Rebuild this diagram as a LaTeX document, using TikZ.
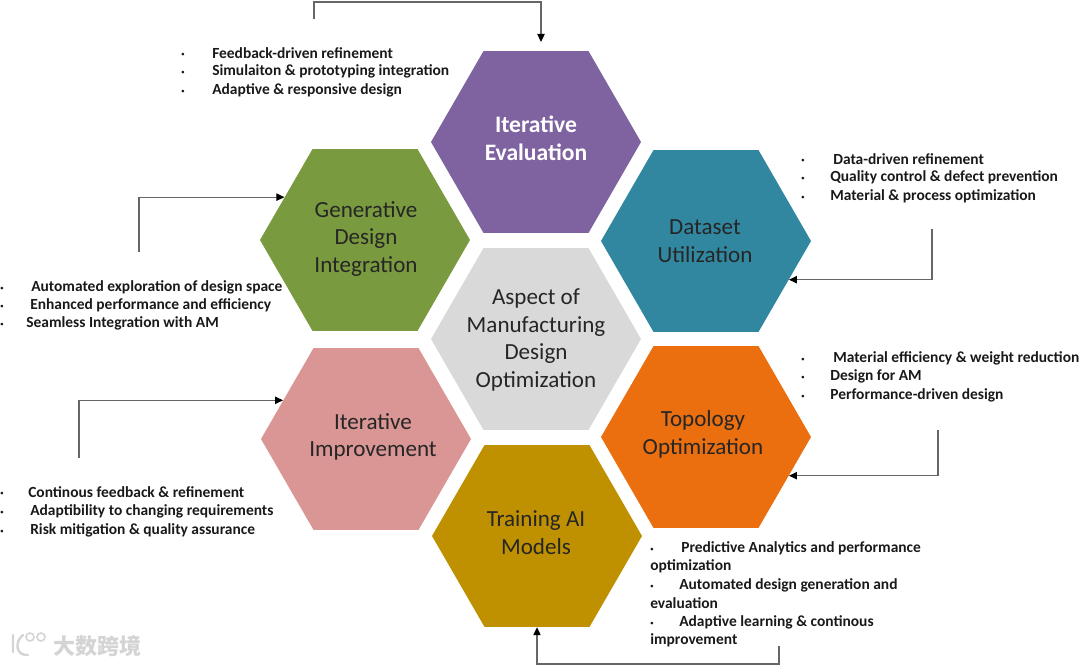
\documentclass[tikz,border=0pt]{standalone}
\usepackage{fontspec}
\setmainfont{Carlito}
\newfontfamily\cjkfont{Noto Sans CJK SC}
\usetikzlibrary{shapes.geometric,arrows.meta}
\definecolor{evalpurple}{HTML}{7F63A1}
\definecolor{gendgreen}{HTML}{7A9A3F}
\definecolor{datateal}{HTML}{31879F}
\definecolor{topoorange}{HTML}{EB6E0F}
\definecolor{imprpink}{HTML}{D99694}
\definecolor{traingold}{HTML}{BF9000}
\tikzset{
  hexcell/.style={regular polygon,regular polygon sides=6,
    minimum size=157.5pt,inner sep=0pt},
  hextext/.style={inner sep=0pt,align=center,text=black!85,
    font=\fontsize{17.3}{20.8}\selectfont},
  pointtext/.style={anchor=west,inner sep=0pt,text=black!90,
    font=\bfseries\fontsize{11.6}{12}\selectfont},
  pointdot/.style={inner sep=0pt,yshift=-2.2pt,text=black!90,font=\bfseries\fontsize{10.5}{12}\selectfont},
  loopline/.style={draw=black!60,line width=0.8pt,-{Triangle[length=6pt,width=5.5pt,color=black]}},
}
\begin{document}
\begin{tikzpicture}[x=0.75pt,y=-0.75pt]
  \useasboundingbox (0,0) rectangle (1080,666);
  % Hexagon cells
  \node[hexcell,fill=evalpurple] (iterEval) at (536,142) {};
  \node[hexcell,fill=gendgreen] (genDesign) at (365,240) {};
  \node[hexcell,fill=datateal] (dataUse) at (706,241) {};
  \node[hexcell,fill=black!15] (aspect) at (536,339) {};
  \node[hexcell,fill=topoorange] (topoOpt) at (706,437) {};
  \node[hexcell,fill=imprpink] (iterImpr) at (366,439) {};
  \node[hexcell,fill=traingold] (trainAI) at (537,536) {};
  % Hexagon labels
  \node[hextext,text=white,font=\bfseries\fontsize{17.7}{20.8}\selectfont] (iterEvalText) at (536,138) {Iterative\\Evaluation};
  \node[hextext] (genDesignText) at (366,239) {Generative\\Design\\Integration};
  \node[hextext] (dataUseText) at (705,241) {Dataset\\Utilization};
  \node[hextext] (aspectText) at (536,340) {Aspect of\\Manufacturing\\Design\\Optimization};
  \node[hextext] (topoOptText) at (703,434) {Topology\\Optimization};
  \node[hextext] (iterImprText) at (373,437) {Iterative\\Improvement};
  \node[hextext] (trainAIText) at (536,533) {Training AI\\Models};
  % Bullet points
  \foreach \x/\y/\txt [count=\i] in {
      212/53/Feedback-driven refinement,
      212/71/Simulaiton \& prototyping integration,
      212/90/Adaptive \& responsive design}{
    \node[pointdot] (fbDot\i) at (183,\y) {·};
    \node[pointtext] (fbText\i) at (\x,\y) {\txt};
  }
  \foreach \x/\y/\txt [count=\i] in {
      833/159/Data-driven refinement,
      830/177/Quality control \& defect prevention,
      830/196/Material \& process optimization}{
    \node[pointdot] (dataDot\i) at (803,\y) {·};
    \node[pointtext] (dataText\i) at (\x,\y) {\txt};
  }
  \foreach \x/\y/\txt [count=\i] in {
      833/358/Material efficiency \& weight reduction,
      830/376/Design for AM,
      830/395/Performance-driven design}{
    \node[pointdot] (topoDot\i) at (803,\y) {·};
    \node[pointtext] (topoText\i) at (\x,\y) {\txt};
  }
  \foreach \x/\y/\txt [count=\i] in {
      31/287/Automated exploration of design space,
      30/305/Enhanced performance and efficiency,
      26/323/Seamless Integration with AM}{
    \node[pointdot] (genDot\i) at (2,\y) {·};
    \node[pointtext] (genText\i) at (\x,\y) {\txt};
  }
  \foreach \x/\y/\txt [count=\i] in {
      28/492/Continous feedback \& refinement,
      30/511/Adaptibility to changing requirements,
      30/530/Risk mitigation \& quality assurance}{
    \node[pointdot] (imprDot\i) at (2,\y) {·};
    \node[pointtext] (imprText\i) at (\x,\y) {\txt};
  }
  \foreach \x/\y/\txt [count=\i] in {
      681/548/Predictive Analytics and performance,
      650/566/optimization,
      679/585/Automated design generation and,
      650/603/evaluation,
      679/622/Adaptive learning \& continous,
      650/640/improvement}{
    \node[pointtext] (aiText\i) at (\x,\y) {\txt};
  }
  \node[pointdot] (aiDot1) at (652,548) {·};
  \node[pointdot] (aiDot2) at (652,585) {·};
  \node[pointdot] (aiDot3) at (652,622) {·};
  % Feedback loops
  \coordinate (fbOut) at (314,19);
  \coordinate (fbTop) at (314,2);
  \coordinate (fbIn) at (541,42);
  \coordinate (genOut) at (139,252);
  \coordinate (imprOut) at (79,458);
  \coordinate (dataOut) at (932,229);
  \coordinate (topoOut) at (938,430);
  \coordinate (aiOut) at (779,646);
  \coordinate (aiLow) at (779,664);
  \draw[loopline] (fbOut) -- (fbTop) -| (fbIn);
  \draw[loopline] (genOut) |- (genDesign.152);
  \draw[loopline] (imprOut) |- (iterImpr.155);
  \draw[loopline] (dataOut) |- (dataUse.-25);
  \draw[loopline] (topoOut) |- (topoOpt.-25);
  \draw[loopline] (aiOut) -- (aiLow) -| (trainAI.south);
  % Watermark
  \node[inner sep=0pt,text=black!17,anchor=west,font=\cjkfont\bfseries\fontsize{16.5}{16.5}\selectfont] (markText) at (53,646) {大数跨境};
  \draw[black!17,line width=1.8pt,line cap=round] (13,635) -- (13,652) (23,635) .. controls (14,642) and (16,656) .. (28,655);
  \draw[black!17,line width=1.2pt] (30,637) circle (4) (41,637) circle (4);
\end{tikzpicture}
\end{document}
